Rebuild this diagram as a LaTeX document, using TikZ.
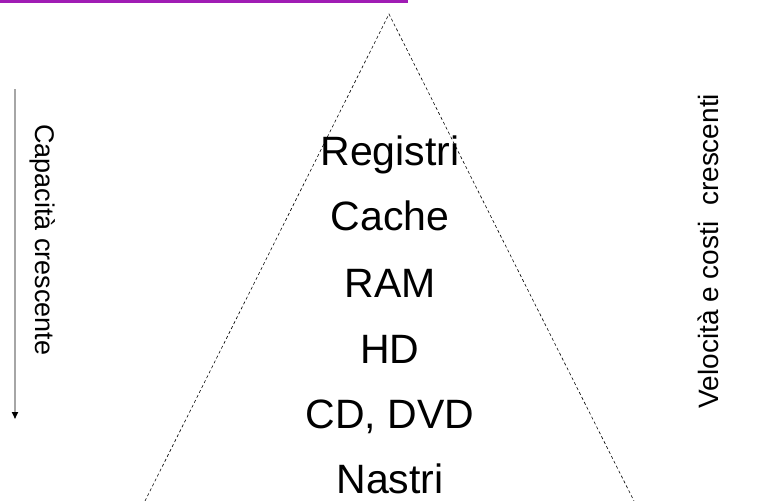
\documentclass[tikz,border=0pt]{standalone}
\usepackage{fontspec}
\setmainfont{Liberation Sans}
\usetikzlibrary{positioning, arrows.meta}
\definecolor{bar}{HTML}{A01CB4}
\definecolor{shaft}{HTML}{A6A6A6}

\begin{document}
\begin{tikzpicture}[x=1pt, y=-1pt,
  level/.style={anchor=base, font=\fontsize{41}{49}\selectfont},
  side/.style={anchor=base, font=\fontsize{27}{32}\selectfont}]
  \useasboundingbox (0,0) rectangle (764,501);

  % top rule
  \coordinate (barL) at (0,1.3);
  \coordinate (barR) at (408,1.3);
  \draw[bar, line width=2.6pt] (barL) -- (barR);

  % pyramid
  \coordinate (apex) at (389,14);
  \coordinate (baseL) at (145,501);
  \coordinate (baseR) at (634,501);
  \draw[dash pattern=on 3pt off 2.5pt, line width=0.6pt] (baseL) -- (apex) -- (baseR);

  \node[level] (reg) at (390,165) {Registri};
  \node[level] (cache) at (390,230) {Cache};
  \node[level] (ram) at (390,297) {RAM};
  \node[level] (hd) at (390,363) {HD};
  \node[level] (cd) at (390,428) {CD, DVD};
  \node[level] (tape) at (390,493) {Nastri};

  % side labels
  \coordinate (capTop) at (15,89);
  \coordinate (capBot) at (15,419);
  \draw[shaft, line width=1.6pt, -{Triangle[length=7pt, width=6pt, color=black]}] (capTop) -- (capBot);
  \node[side, rotate=-90] (cap) at (35,240) {Capacità crescente};
  \node[side, rotate=90, font=\fontsize{28}{33}\selectfont] (speed) at (718,251) {Velocità e costi\ \ crescenti};
\end{tikzpicture}
\end{document}
